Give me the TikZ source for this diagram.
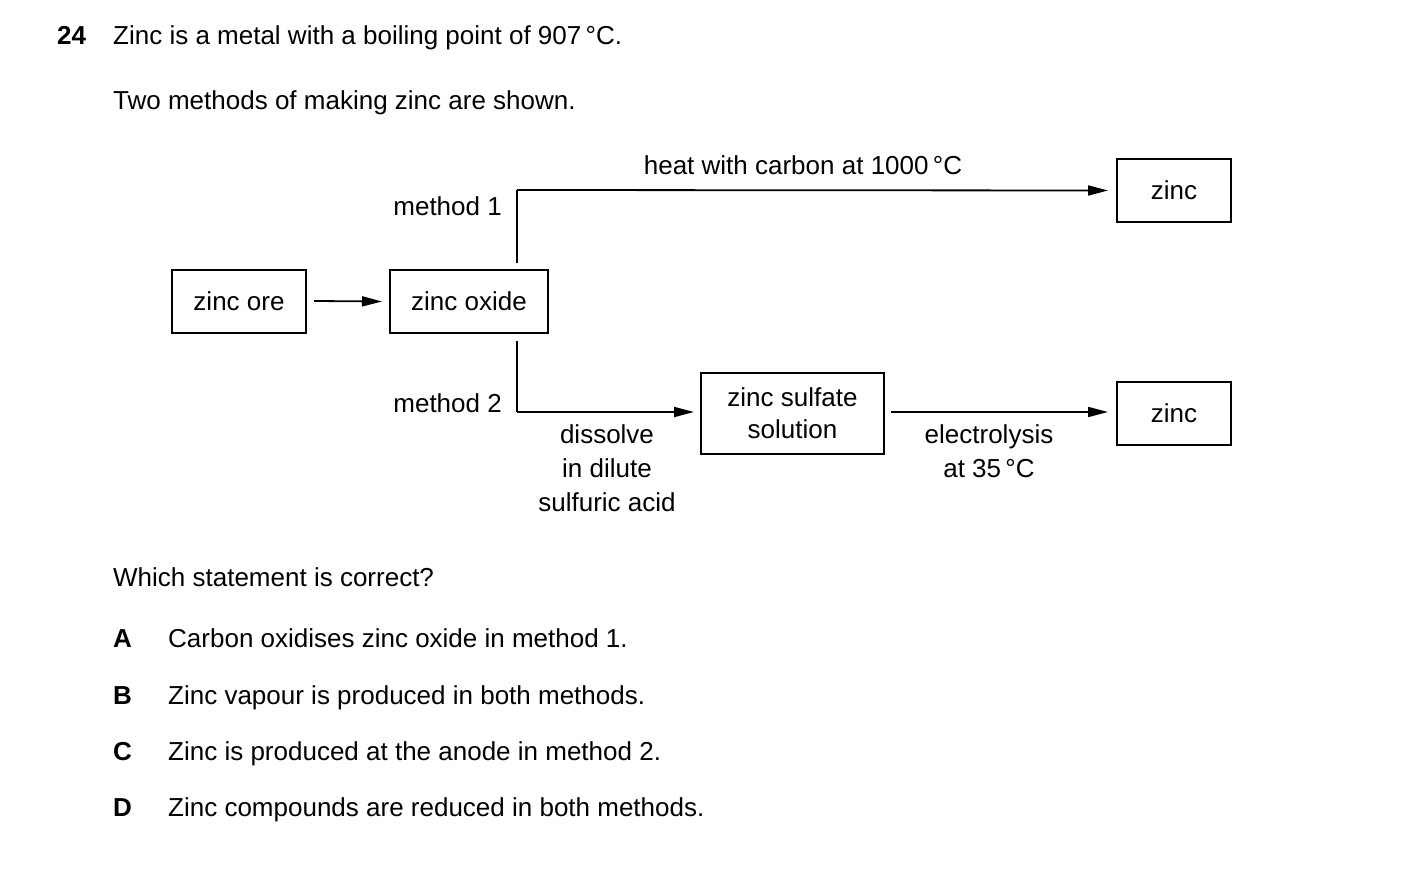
\documentclass[tikz,border=0pt]{standalone}
\usepackage{fontspec}
\setmainfont{Liberation Sans}
\usetikzlibrary{arrows.meta}
\begin{document}
\begin{tikzpicture}[x=1pt,y=-1pt,
  every node/.style={font=\fontsize{26}{34}\selectfont, inner sep=0pt},
  box/.style={draw, line width=1.2pt, minimum width=#1, minimum height=63pt},
  ln/.style={line width=1.8pt},
  arr/.style={ln, -{Triangle[length=20pt,width=10pt]}},
  txt/.style={anchor=base west}]
\useasboundingbox (0,0) rectangle (1403,869);
\node[txt, font=\fontsize{26}{34}\selectfont\bfseries] (q) at (57,45) {24};
\node[txt] (l1) at (113,45) {Zinc is a metal with a boiling point of 907\,°C.};
\node[txt] (l2) at (113,110) {Two methods of making zinc are shown.};

\node[box=134pt] (ore) at (239,301.5) {zinc ore};
\node[box=158pt] (oxide) at (469,301.5) {zinc oxide};
\node[box=114pt] (z1) at (1174,190.5) {zinc};
\node[box=183pt, minimum height=81pt, align=center] (sulf) at (792.5,413.5) {zinc sulfate\\[-2pt]solution};
\node[box=114pt] (z2) at (1174,413.5) {zinc};

\coordinate (m1a) at (517,263);
\coordinate (m1b) at (517,190);
\coordinate (m2a) at (517,341);
\coordinate (m2b) at (517,412);
\coordinate (e1) at (891,412);
\draw[arr] (314,301) -- (ore.east -| 382,0) ;
\draw[ln] (m1a) -- (m1b);
\draw[arr] (m1b) -- (z1.west -| 1108,0);
\draw[ln] (m2a) -- (m2b);
\draw[arr] (m2b) -- (694,412);
\draw[arr] (e1) -- (1108,412);

\node (h) at (803,165) {heat with carbon at 1000\,°C};
\node[anchor=east] (m1) at (502,206) {method 1};
\node[anchor=east] (m2) at (502,403) {method 2};
\node[align=center, anchor=north] (d) at (607,424) {dissolve\\in dilute\\sulfuric acid};
\node[align=center, anchor=north] (el) at (989,424) {electrolysis\\at 35\,°C};

\node[txt] (w) at (113,586) {Which statement is correct?};
\foreach \l/\t/\y in {A/Carbon oxidises zinc oxide in method 1./647, B/Zinc vapour is produced in both methods./704, C/Zinc is produced at the anode in method 2./760, D/Zinc compounds are reduced in both methods./816}{
  \node[txt, font=\fontsize{26}{34}\selectfont\bfseries] (k\l) at (113,\y) {\l};
  \node[txt] (t\l) at (168,\y) {\t};
}
\end{tikzpicture}
\end{document}
